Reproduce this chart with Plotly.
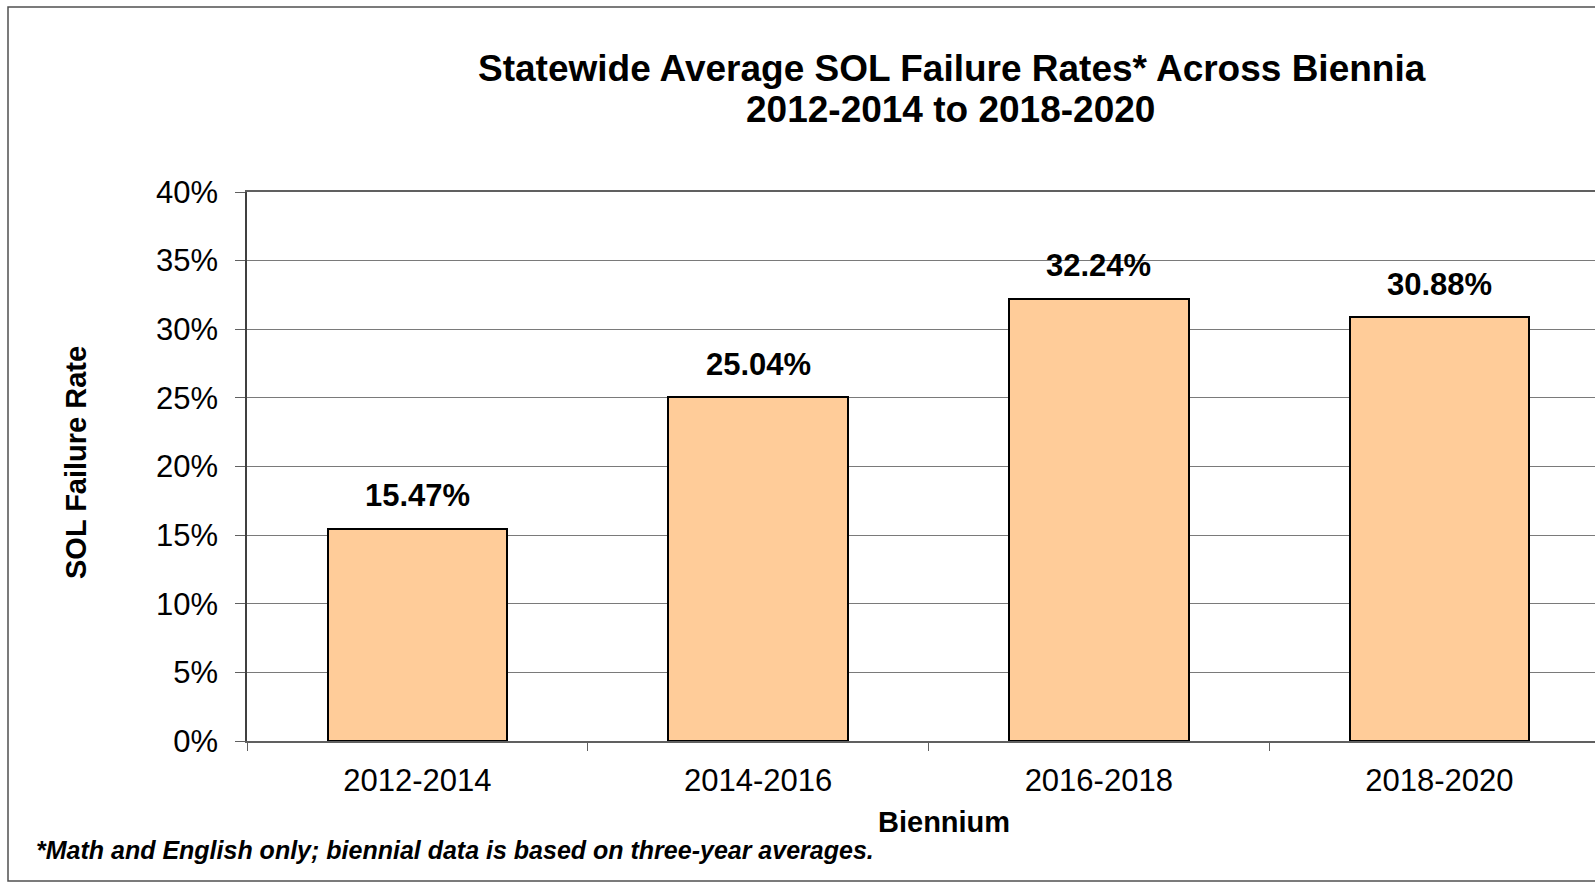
import plotly.graph_objects as go

#%% data
biennia = ["2012-2014", "2014-2016", "2016-2018", "2018-2020"]
failure_rates = [15.47, 25.04, 32.24, 30.88]
bar_labels = ["15.47%", "25.04%", "32.24%", "30.88%"]

#%% layout numbers (pixels)
W, H = 1595, 882
left, right, top, bottom = 247, 0, 192, 141
plot_w = W - left - right
plot_h = H - top - bottom
cat_w = 340.7  # width of one category slot, plot runs off the right edge

def px_x(x):
    return (x - left) / plot_w

def px_y(y):
    return (H - bottom - y) / plot_h

font_name = "Liberation Sans, Arial, sans-serif"

fig = go.Figure()
fig.add_trace(go.Bar(
    x=biennia, y=[v / 100 for v in failure_rates],
    width=0.527,
    marker=dict(color="#FFCC99", line=dict(color="#000000", width=2)),
    hoverinfo="x+y",
))

# bold value labels above the bars
for cat, val, lab in zip(biennia, failure_rates, bar_labels):
    fig.add_annotation(x=cat, y=val / 100, text="<b>%s</b>" % lab, showarrow=False,
                       yanchor="middle", yshift=33,
                       font=dict(family=font_name, size=31, color="#000000"))

# title, two lines
fig.add_annotation(xref="paper", yref="paper", x=px_x(952), y=px_y(69),
                   text="<b>Statewide Average SOL Failure Rates* Across Biennia</b>",
                   showarrow=False, xanchor="center", yanchor="middle",
                   font=dict(family=font_name, size=37, color="#000000"))
fig.add_annotation(xref="paper", yref="paper", x=px_x(950), y=px_y(110),
                   text="<b>2012-2014 to 2018-2020</b>",
                   showarrow=False, xanchor="center", yanchor="middle",
                   font=dict(family=font_name, size=37, color="#000000"))

# axis titles
fig.add_annotation(xref="paper", yref="paper", x=px_x(944), y=px_y(822),
                   text="<b>Biennium</b>", showarrow=False,
                   xanchor="center", yanchor="middle",
                   font=dict(family=font_name, size=29, color="#000000"))
fig.add_annotation(xref="paper", yref="paper", x=px_x(76), y=px_y(463),
                   text="<b>SOL Failure Rate</b>", showarrow=False, textangle=-90,
                   xanchor="center", yanchor="middle",
                   font=dict(family=font_name, size=29, color="#000000"))

# footnote
fig.add_annotation(xref="paper", yref="paper", x=px_x(34), y=px_y(850),
                   text="<b><i>*Math and English only; biennial data is based on three-year averages.</i></b>",
                   showarrow=False, xanchor="left", yanchor="middle",
                   font=dict(family=font_name, size=25, color="#000000"))

# outer chart border
fig.add_shape(type="rect", xref="paper", yref="paper",
              x0=px_x(8), x1=px_x(W + 20), y0=px_y(881), y1=px_y(7),
              line=dict(color="#505050", width=1.5), fillcolor="rgba(0,0,0,0)", layer="below")

fig.update_layout(
    width=W, height=H,
    margin=dict(l=left, r=right, t=top, b=bottom, autoexpand=False),
    paper_bgcolor="white", plot_bgcolor="white",
    showlegend=False,
    font=dict(family=font_name, size=31, color="#000000"),
    bargap=0,
)
fig.update_xaxes(
    type="category", range=[-0.5, -0.5 + plot_w / cat_w],
    showline=True, linecolor="#606060", linewidth=1.5, mirror=True,
    ticks="outside", ticklen=8, tickcolor="#606060", tickson="boundaries",
    tickfont=dict(family=font_name, size=31, color="#000000"),
    ticklabelstandoff=11, showgrid=False,
)
fig.update_yaxes(
    range=[0, 0.4], dtick=0.05, tickformat=".0%",
    showline=True, linecolor="#404040", linewidth=1.5,
    ticks="outside", ticklen=10, tickcolor="#606060",
    showgrid=True, gridcolor="#7a7a7a", gridwidth=1, zeroline=False,
    tickfont=dict(family=font_name, size=31, color="#000000"),
    ticklabelstandoff=11,
)

# page body has a default margin, drop it so the chart sits at the window corner
fig.write_html("out.html", config={"displayModeBar": False},
               post_script="document.body.style.margin='0';document.body.style.overflow='hidden';")
